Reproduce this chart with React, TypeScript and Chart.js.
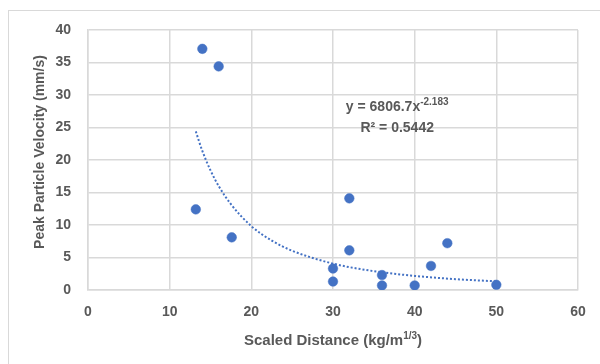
import React, { useEffect, useRef } from "react";
import { Chart, registerables } from "chart.js";

Chart.register(...registerables);

// Observed data
const scaledDistance = [13.2, 14, 16, 17.6, 30, 30, 32, 32, 36, 36, 40, 42, 44, 50];
const peakVelocity = [12.4, 37.1, 34.4, 8.1, 3.3, 1.3, 14.1, 6.1, 2.3, 0.7, 0.7, 3.7, 7.2, 0.8];

// Power trendline, values
const trendX = [13.2, 14, 15, 16, 17.5, 20, 22.5, 25, 30, 35, 40, 45, 50];
const trendY = [24.4, 21.4, 18.4, 16.0, 13.2, 9.83, 7.6, 6.04, 4.06, 2.9, 2.17, 1.67, 1.33];

const xMin = 0;
const xMax = 60;
const xStep = 10;
const yMin = 0;
const yMax = 40;
const yStep = 5;

const xTitleMain = "Scaled Distance (kg/m";
const xTitleSup = "1/3";
const xTitleEnd = ")";
const yTitle = "Peak Particle Velocity (mm/s)";
const eqMain = "y = 6806.7x";
const eqSup = "-2.183";
const eqR2 = "R² = 0.5442";

const FONT = "'Liberation Sans', Arial, sans-serif";
const TEXT = "#595959";
const GRID = "#d9d9d9";
const BLUE = "#4472C4";

const decorPlugin = {
  id: "decor",
  afterDraw(chart: any) {
    const ctx = chart.ctx as CanvasRenderingContext2D;
    const area = chart.chartArea;
    ctx.save();
    // outer chart border
    ctx.strokeStyle = GRID;
    ctx.lineWidth = 1;
    ctx.strokeRect(8.5, 10.5, 700, 500);

    ctx.fillStyle = TEXT;
    // y title
    ctx.save();
    ctx.font = `bold 14px ${FONT}`;
    ctx.textAlign = "center";
    ctx.textBaseline = "middle";
    ctx.translate(40, (area.top + area.bottom) / 2 - 8);
    ctx.rotate(-Math.PI / 2);
    ctx.fillText(yTitle, 0, 0);
    ctx.restore();

    // x title with superscript
    ctx.textBaseline = "alphabetic";
    ctx.textAlign = "left";
    const mainFont = `bold 15px ${FONT}`;
    const supFont = `bold 10px ${FONT}`;
    ctx.font = mainFont;
    const w1 = ctx.measureText(xTitleMain).width;
    const w3 = ctx.measureText(xTitleEnd).width;
    ctx.font = supFont;
    const w2 = ctx.measureText(xTitleSup).width;
    const cx = (area.left + area.right) / 2;
    let x = cx - (w1 + w2 + w3) / 2;
    const base = area.bottom + 55;
    ctx.font = mainFont;
    ctx.fillText(xTitleMain, x, base);
    x += w1;
    ctx.font = supFont;
    ctx.fillText(xTitleSup, x, base - 6);
    x += w2;
    ctx.font = mainFont;
    ctx.fillText(xTitleEnd, x, base);

    // equation label
    const eqFont = `bold 14px ${FONT}`;
    const eqSupFont = `bold 10px ${FONT}`;
    ctx.font = eqFont;
    const e1 = ctx.measureText(eqMain).width;
    ctx.font = eqSupFont;
    const e2 = ctx.measureText(eqSup).width;
    const ecx = area.left + (area.right - area.left) * 0.631;
    let ex = ecx - (e1 + e2) / 2;
    const eBase = area.top + 81;
    ctx.font = eqFont;
    ctx.fillText(eqMain, ex, eBase);
    ex += e1;
    ctx.font = eqSupFont;
    ctx.fillText(eqSup, ex, eBase - 6);
    ctx.font = eqFont;
    ctx.textAlign = "center";
    ctx.fillText(eqR2, ecx, eBase + 21);
    ctx.restore();
  },
};

export default function App() {
  const ref = useRef<HTMLCanvasElement>(null);
  useEffect(() => {
    if (!ref.current) return;
    const points = scaledDistance.map((v, i) => ({ x: v, y: peakVelocity[i] }));
    const trend = trendX.map((v, i) => ({ x: v, y: trendY[i] }));
    const chart = new Chart(ref.current, {
      type: "scatter",
      data: {
        datasets: [
          {
            label: "PPV",
            data: points,
            backgroundColor: BLUE,
            borderColor: BLUE,
            pointRadius: 4.8,
            borderWidth: 0.5,
            order: 0,
          },
          {
            label: "Trend",
            data: trend,
            showLine: true,
            borderColor: BLUE,
            borderWidth: 2,
            borderDash: [2, 2],
            pointRadius: 0,
            cubicInterpolationMode: "monotone",
            fill: false,
            order: 1,
          } as any,
        ],
      },
      options: {
        animation: false,
        responsive: false,
        layout: { padding: { top: 30, right: 22, left: 0, bottom: 0 } },
        plugins: { legend: { display: false }, tooltip: { enabled: false } },
        scales: {
          x: {
            type: "linear",
            min: xMin,
            max: xMax,
            afterFit: (s: any) => {
              s.height = 74;
            },
            ticks: {
              stepSize: xStep,
              padding: 14,
              color: TEXT,
              font: { family: FONT, size: 14, weight: "bold" },
            },
            grid: { color: GRID, lineWidth: 1.5, drawTicks: false },
            border: { display: true, color: GRID, width: 1.5 },
          },
          y: {
            type: "linear",
            min: yMin,
            max: yMax,
            afterFit: (s: any) => {
              s.width = 88;
            },
            ticks: {
              stepSize: yStep,
              padding: 17,
              color: TEXT,
              font: { family: FONT, size: 14, weight: "bold" },
            },
            grid: { color: GRID, lineWidth: 1.5, drawTicks: false },
            border: { display: true, color: GRID, width: 1.5 },
          },
        },
      },
      plugins: [decorPlugin],
    });
    return () => chart.destroy();
  }, []);
  return (
    <div style={{ position: "fixed", left: 0, top: 0, width: 600, height: 364, background: "#fff" }}>
      <canvas ref={ref} width={600} height={364} />
    </div>
  );
}
